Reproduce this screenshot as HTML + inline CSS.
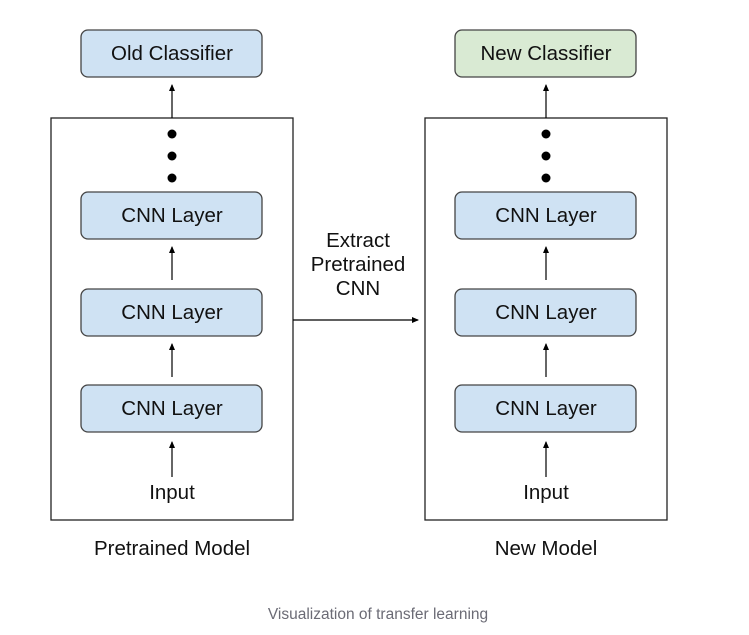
<!DOCTYPE html>
<html><head><meta charset="utf-8"><style>
body{margin:0;background:#fff;}
svg{display:block;}
text{font-family:"Liberation Sans",Arial,sans-serif;}
</style></head><body>
<svg width="749" height="635" viewBox="0 0 749 635" xmlns="http://www.w3.org/2000/svg">
<defs>
<marker id="a" markerWidth="8" markerHeight="8" refX="6" refY="4" orient="auto" markerUnits="userSpaceOnUse">
<path d="M0,1 L7,4 L0,7 z" fill="#000"/>
</marker>
</defs>
<g stroke="#222" stroke-width="1.3" fill="none">
<rect x="51" y="118" width="242" height="402"/>
<rect x="425" y="118" width="242" height="402"/>
</g>
<g stroke="#444" stroke-width="1.3">
<rect x="81" y="30" width="181" height="47" rx="7" fill="#cfe2f3"/>
<rect x="81" y="192" width="181" height="47" rx="7" fill="#cfe2f3"/>
<rect x="81" y="289" width="181" height="47" rx="7" fill="#cfe2f3"/>
<rect x="81" y="385" width="181" height="47" rx="7" fill="#cfe2f3"/>
<rect x="455" y="30" width="181" height="47" rx="7" fill="#d9ead3"/>
<rect x="455" y="192" width="181" height="47" rx="7" fill="#cfe2f3"/>
<rect x="455" y="289" width="181" height="47" rx="7" fill="#cfe2f3"/>
<rect x="455" y="385" width="181" height="47" rx="7" fill="#cfe2f3"/>
</g>
<g stroke="#000" stroke-width="1.2" marker-end="url(#a)">
<line x1="172" y1="118" x2="172" y2="85"/>
<line x1="172" y1="280" x2="172" y2="247"/>
<line x1="172" y1="377" x2="172" y2="344"/>
<line x1="172" y1="477" x2="172" y2="442"/>
<line x1="546" y1="118" x2="546" y2="85"/>
<line x1="546" y1="280" x2="546" y2="247"/>
<line x1="546" y1="377" x2="546" y2="344"/>
<line x1="546" y1="477" x2="546" y2="442"/>
<line x1="293" y1="320" x2="418" y2="320"/>
</g>
<g fill="#000">
<circle cx="172" cy="134" r="4.5"/><circle cx="172" cy="156" r="4.5"/><circle cx="172" cy="178" r="4.5"/>
<circle cx="546" cy="134" r="4.5"/><circle cx="546" cy="156" r="4.5"/><circle cx="546" cy="178" r="4.5"/>
</g>
<g font-size="20.5" text-anchor="middle" fill="#111">
<text x="172" y="60">Old Classifier</text>
<text x="172" y="222">CNN Layer</text>
<text x="172" y="319">CNN Layer</text>
<text x="172" y="415">CNN Layer</text>
<text x="172" y="499">Input</text>
<text x="546" y="60">New Classifier</text>
<text x="546" y="222">CNN Layer</text>
<text x="546" y="319">CNN Layer</text>
<text x="546" y="415">CNN Layer</text>
<text x="546" y="499">Input</text>
<text x="358" y="247">Extract</text>
<text x="358" y="271">Pretrained</text>
<text x="358" y="295">CNN</text>
<text x="172" y="555">Pretrained Model</text>
<text x="546" y="555">New Model</text>
</g>
<text x="378" y="619" font-size="15.5" text-anchor="middle" fill="#6b6b75">Visualization of transfer learning</text>
</svg>
</body></html>
